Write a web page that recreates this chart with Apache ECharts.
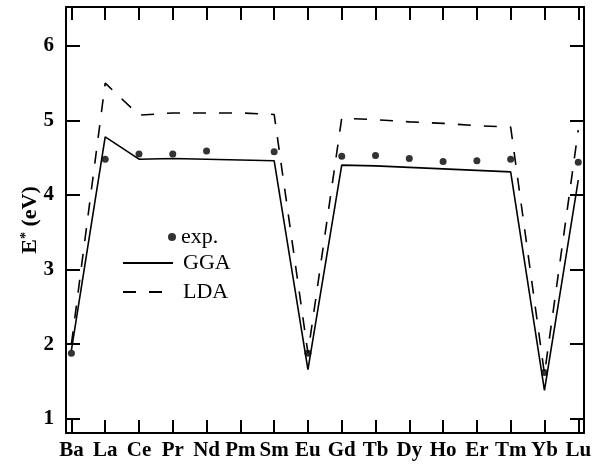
<!DOCTYPE html>
<html>
<head>
<meta charset="utf-8">
<script src="https://cdn.jsdelivr.net/npm/echarts@6/dist/echarts.min.js"></script>
<style>html,body{margin:0;padding:0;background:#fff}#c{width:600px;height:464px}</style>
</head>
<body>
<div id="c"></div>
<script>
const categories = ['Ba','La','Ce','Pr','Nd','Pm','Sm','Eu','Gd','Tb','Dy','Ho','Er','Tm','Yb','Lu'];
const expValues = [1.88, 4.48, 4.55, 4.55, 4.59, null, 4.58, 1.88, 4.52, 4.53, 4.49, 4.45, 4.46, 4.48, 1.62, 4.44];
const ggaValues = [1.92, 4.78, 4.48, 4.49, 4.48, 4.47, 4.46, 1.66, 4.40, 4.39, 4.37, 4.35, 4.33, 4.31, 1.38, 4.20];
const ldaValues = [2.00, 5.50, 5.07, 5.10, 5.10, 5.10, 5.08, 1.88, 5.03, 5.01, 4.98, 4.96, 4.93, 4.91, 1.60, 4.87];
const yTicks = [1, 2, 3, 4, 5, 6];

const font = 'Liberation Serif';
const xIdx = categories.map((c, i) => i);
const toPairs = vals => vals.map((v, i) => v == null ? null : [i, v]).filter(p => p);

const chart = echarts.init(document.getElementById('c'), null, {renderer: 'canvas'});

const axisLineStyle = {color: '#000', width: 2};
const tickStyle = {color: '#000', width: 2};

const xBase = {
  type: 'value', min: -0.16, max: 15.17,
  splitLine: {show: false},
  axisLine: {show: true, onZero: false, lineStyle: axisLineStyle},
  axisTick: {show: true, inside: true, length: 13, lineStyle: tickStyle, customValues: xIdx}
};
const yBase = {
  type: 'value', min: 0.81, max: 6.52,
  splitLine: {show: false},
  axisLine: {show: true, onZero: false, lineStyle: axisLineStyle},
  axisTick: {show: true, inside: true, length: 14, lineStyle: tickStyle, customValues: yTicks}
};

chart.setOption({
  animation: false,
  backgroundColor: '#fff',
  grid: {left: 66, top: 7, width: 518, height: 426, containLabel: false},
  xAxis: [
    Object.assign({}, xBase, {
      position: 'bottom',
      axisLabel: {
        show: true, customValues: xIdx, margin: 7,
        formatter: v => categories[Math.round(v)],
        color: '#000', fontFamily: font, fontSize: 21, fontWeight: 'bold'
      }
    }),
    Object.assign({}, xBase, {position: 'top', axisLabel: {show: false}})
  ],
  yAxis: [
    Object.assign({}, yBase, {
      position: 'left',
      axisLabel: {
        show: true, customValues: yTicks, margin: 12,
        color: '#000', fontFamily: font, fontSize: 21, fontWeight: 'bold'
      },
      name: '{e|E}{s|*}{e| (eV)}',
      nameLocation: 'middle',
      nameGap: 25,
      nameMoveOverlap: false,
      nameTextStyle: {
        color: '#000', fontFamily: font, fontSize: 22, fontWeight: 'bold',
        rich: {
          e: {fontFamily: font, fontSize: 22, fontWeight: 'bold', color: '#000'},
          s: {fontFamily: font, fontSize: 14, fontWeight: 'bold', color: '#000', verticalAlign: 'top'}
        }
      }
    }),
    Object.assign({}, yBase, {position: 'right', axisLabel: {show: false}})
  ],
  legend: [
    {
      data: [{name: 'exp.', icon: 'circle'}],
      left: 168, top: 226, padding: 0,
      itemWidth: 8, itemHeight: 8,
      textStyle: {color: '#000', fontFamily: font, fontSize: 22, lineHeight: 20, padding: [0, 0, 0, 0]}
    },
    {
      data: ['GGA', 'LDA'],
      orient: 'vertical',
      left: 122, top: 252, padding: 0,
      itemWidth: 50, itemHeight: 14, itemGap: 7,
      itemStyle: {opacity: 0},
      textStyle: {color: '#000', fontFamily: font, fontSize: 22, lineHeight: 20, padding: [0, 0, 0, 5]}
    }
  ],
  series: [
    {
      name: 'GGA', type: 'line', data: toPairs(ggaValues),
      symbol: 'none', lineStyle: {color: '#000', width: 1.6, type: 'solid'},
      itemStyle: {color: '#000'}, z: 2
    },
    {
      name: 'LDA', type: 'line', data: toPairs(ldaValues),
      symbol: 'none', lineStyle: {color: '#000', width: 1.6, type: [13, 13]},
      itemStyle: {color: '#000'}, z: 2
    },
    {
      name: 'exp.', type: 'scatter', data: toPairs(expValues),
      symbol: 'circle', symbolSize: 7, itemStyle: {color: '#000'}, z: 3
    }
  ]
});
</script>
</body>
</html>
